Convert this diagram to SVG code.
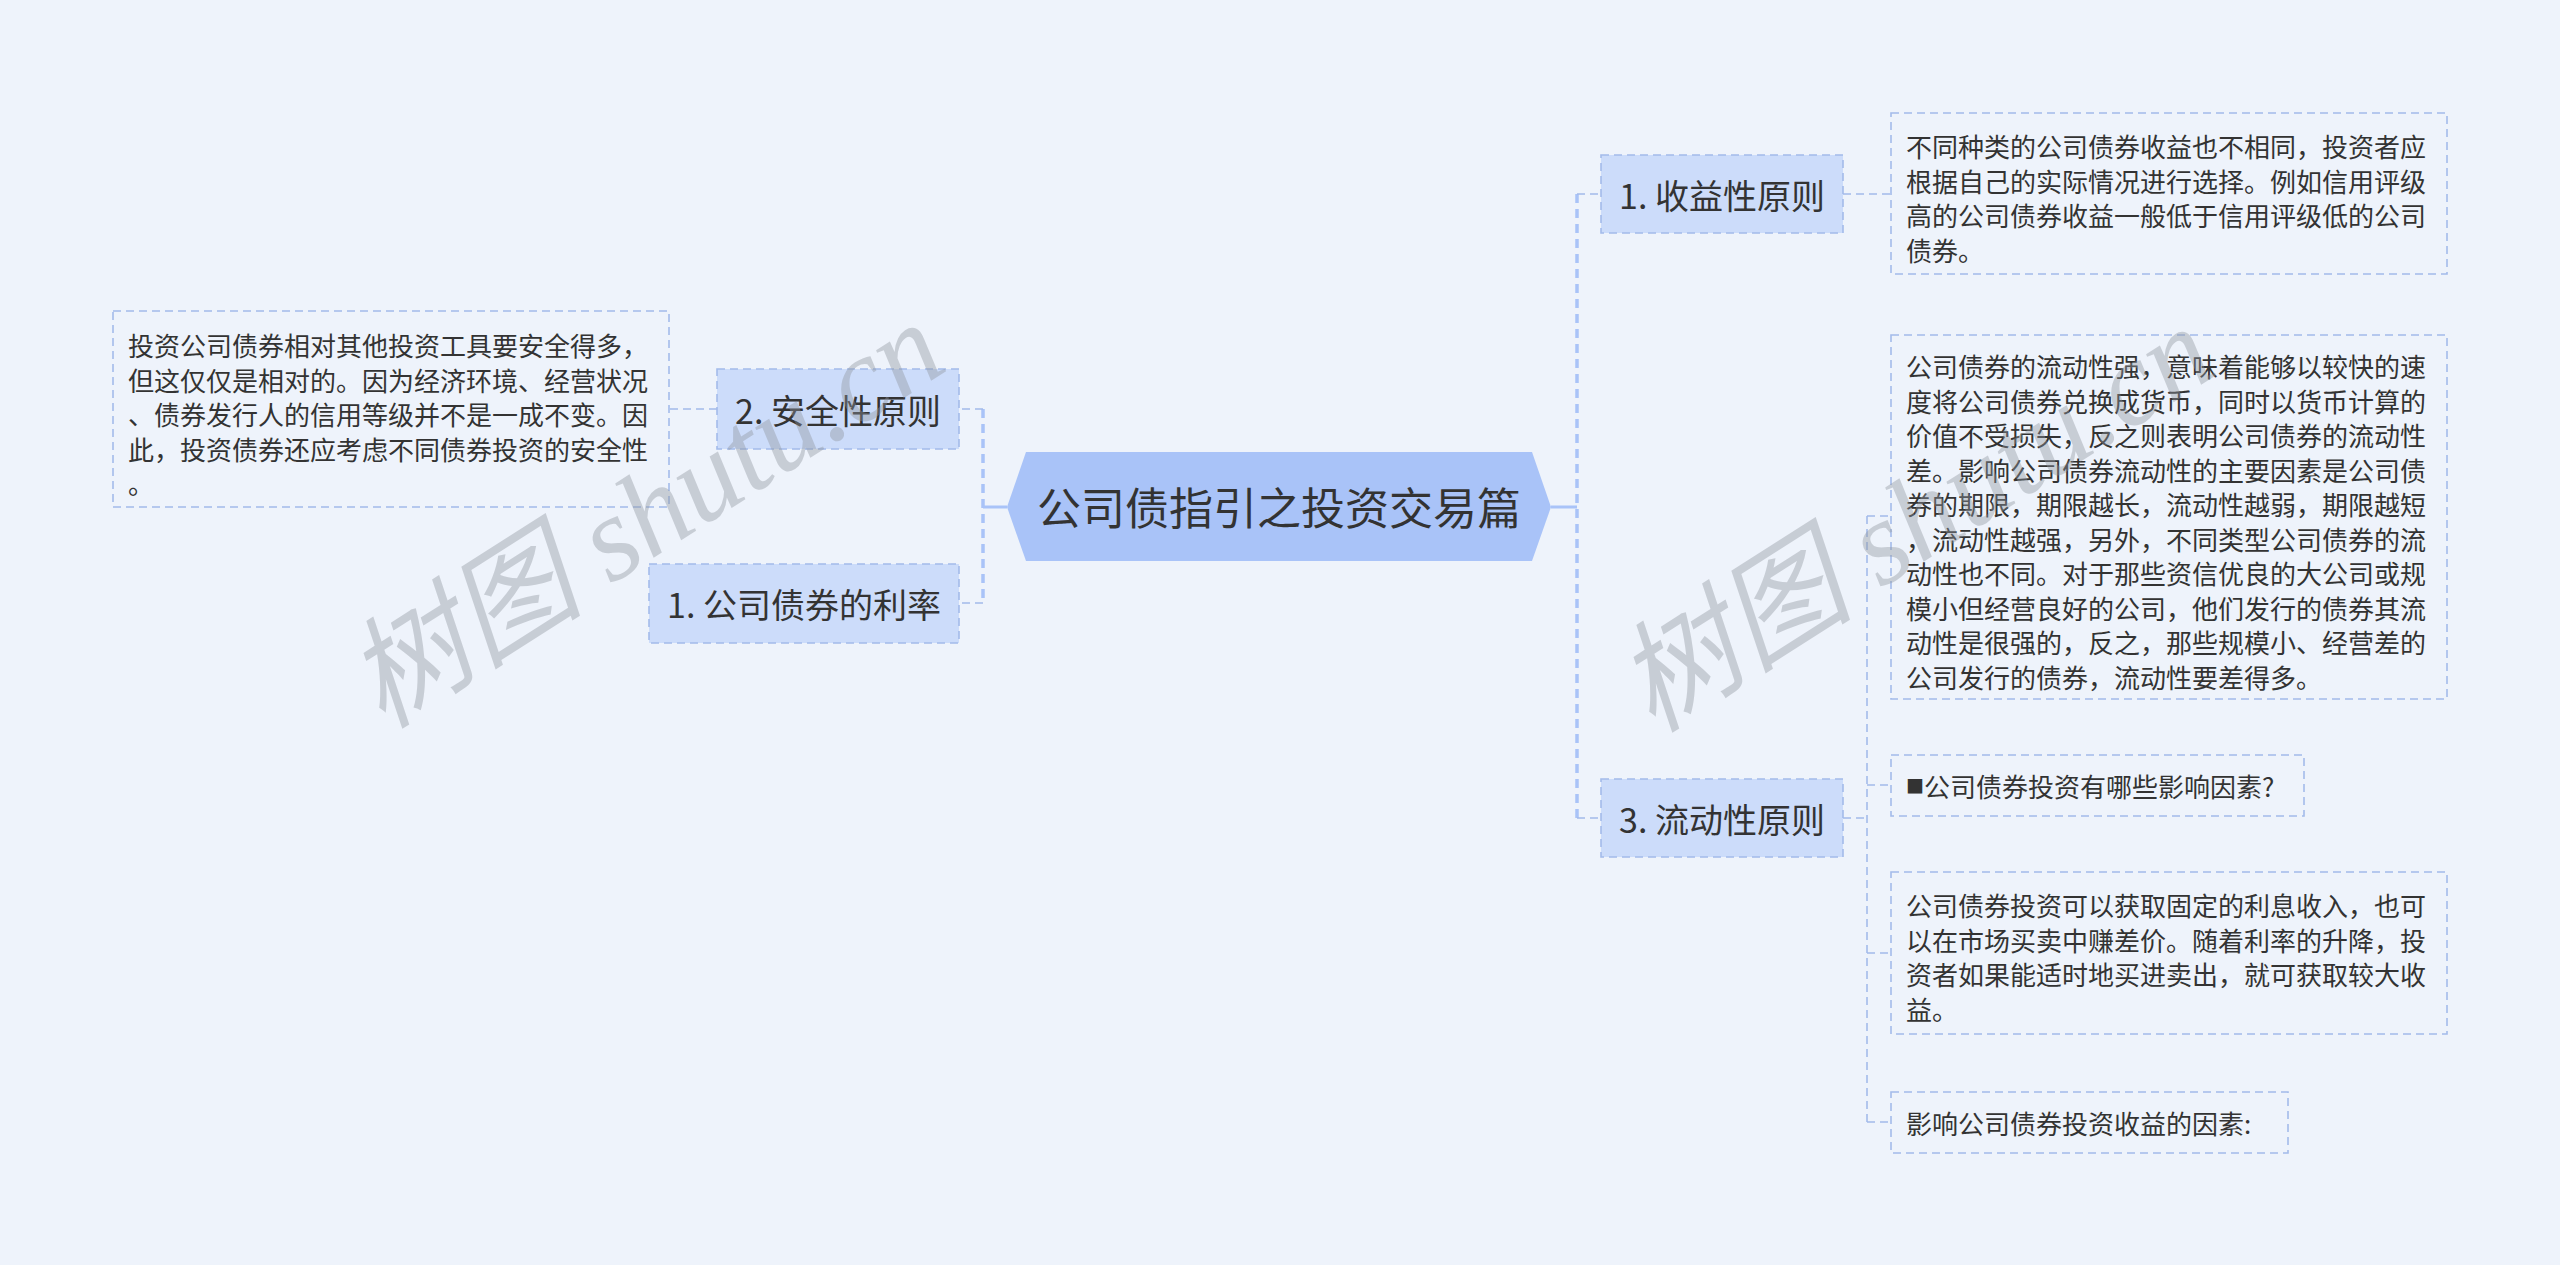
<svg xmlns="http://www.w3.org/2000/svg" width="2560" height="1265" viewBox="0 0 2560 1265">
<style>
.bg{fill:#eef3fb}
.t{font-family:"Noto Sans CJK SC","Noto Sans",sans-serif;fill:#333333}
.lbl{font-size:34px;text-anchor:middle;dominant-baseline:central}
.body{font-size:26px;dominant-baseline:central}
.node{fill:#ccdcfa;stroke:#a3bbea;stroke-width:1.6;stroke-dasharray:8 5}
.box{fill:none;stroke:#a3bbea;stroke-width:1.6;stroke-dasharray:8 5}
.solid{stroke:#a9c3f8;stroke-width:3;fill:none}
.trunk{stroke:#a9c3f8;stroke-width:3.5;fill:none;stroke-dasharray:9 6}
.thin{stroke:#a3bbea;stroke-width:1.6;fill:none;stroke-dasharray:8 5}
.wm{font-family:"Liberation Serif","Noto Sans CJK SC",serif;font-size:120px;font-style:italic;fill:#8f959e;opacity:0.4;text-anchor:middle;dominant-baseline:central}
</style>
<rect class="bg" x="0" y="0" width="2560" height="1265"/>

<g id="connectors">
  <line class="solid" x1="1551" y1="507" x2="1577" y2="507"/>
  <line class="trunk" x1="1577" y1="194" x2="1577" y2="818"/>
  <line class="thin" x1="1577" y1="194" x2="1601" y2="194"/>
  <line class="thin" x1="1577" y1="818" x2="1601" y2="818"/>
  <line class="solid" x1="1007" y1="507" x2="983" y2="507"/>
  <line class="trunk" x1="983" y1="409" x2="983" y2="603"/>
  <line class="thin" x1="983" y1="409" x2="959" y2="409"/>
  <line class="thin" x1="983" y1="603" x2="959" y2="603"/>
  <line class="thin" x1="717" y1="409" x2="669" y2="409"/>
  <line class="thin" x1="1843" y1="194" x2="1891" y2="194"/>
  <line class="thin" x1="1843" y1="818" x2="1867" y2="818"/>
  <line class="thin" x1="1867" y1="516" x2="1867" y2="1122"/>
  <line class="thin" x1="1867" y1="516" x2="1891" y2="516"/>
  <line class="thin" x1="1867" y1="785" x2="1891" y2="785"/>
  <line class="thin" x1="1867" y1="953" x2="1891" y2="953"/>
  <line class="thin" x1="1867" y1="1122" x2="1891" y2="1122"/>
</g>

<g id="root">
  <polygon points="1007,507 1026,452 1532,452 1551,507 1532,561 1026,561" fill="#a9c3f8"/>
  <text class="t" x="1279" y="506" font-size="44" text-anchor="middle" dominant-baseline="central">公司债指引之投资交易篇</text>
</g>

<g id="n-shouyi">
  <rect class="node" x="1601" y="155" width="242" height="78"/>
  <text class="t lbl" x="1722" y="194">1. 收益性原则</text>
</g>
<g id="n-liudong">
  <rect class="node" x="1601" y="779" width="242" height="78"/>
  <text class="t lbl" x="1722" y="818">3. 流动性原则</text>
</g>
<g id="n-anquan">
  <rect class="node" x="717" y="369" width="242" height="80"/>
  <text class="t lbl" x="838" y="409">2. 安全性原则</text>
</g>
<g id="n-lilv">
  <rect class="node" x="649" y="564" width="310" height="79"/>
  <text class="t lbl" x="804" y="603">1. 公司债券的利率</text>
</g>

<g id="d-anquan">
  <rect class="box" x="113" y="311" width="556" height="196"/>
  <text class="t body">
    <tspan x="128" y="344">投资公司债券相对其他投资工具要安全得多，</tspan>
    <tspan x="128" y="378.5">但这仅仅是相对的。因为经济环境、经营状况</tspan>
    <tspan x="128" y="413">、债券发行人的信用等级并不是一成不变。因</tspan>
    <tspan x="128" y="447.5">此，投资债券还应考虑不同债券投资的安全性</tspan>
    <tspan x="128" y="482">。</tspan>
  </text>
</g>

<g id="d-shouyi">
  <rect class="box" x="1891" y="113" width="556" height="161"/>
  <text class="t body">
    <tspan x="1906" y="145">不同种类的公司债券收益也不相同，投资者应</tspan>
    <tspan x="1906" y="179.5">根据自己的实际情况进行选择。例如信用评级</tspan>
    <tspan x="1906" y="214">高的公司债券收益一般低于信用评级低的公司</tspan>
    <tspan x="1906" y="248.5">债券。</tspan>
  </text>
</g>

<g id="d-liudong">
  <rect class="box" x="1891" y="335" width="556" height="364"/>
  <text class="t body">
    <tspan x="1906" y="365">公司债券的流动性强，意味着能够以较快的速</tspan>
    <tspan x="1906" y="399.5">度将公司债券兑换成货币，同时以货币计算的</tspan>
    <tspan x="1906" y="434">价值不受损失，反之则表明公司债券的流动性</tspan>
    <tspan x="1906" y="468.5">差。影响公司债券流动性的主要因素是公司债</tspan>
    <tspan x="1906" y="503">券的期限，期限越长，流动性越弱，期限越短</tspan>
    <tspan x="1906" y="537.5">，流动性越强，另外，不同类型公司债券的流</tspan>
    <tspan x="1906" y="572">动性也不同。对于那些资信优良的大公司或规</tspan>
    <tspan x="1906" y="606.5">模小但经营良好的公司，他们发行的债券其流</tspan>
    <tspan x="1906" y="641">动性是很强的，反之，那些规模小、经营差的</tspan>
    <tspan x="1906" y="675.5">公司发行的债券，流动性要差得多。</tspan>
  </text>
</g>

<g id="d-yinsu">
  <rect class="box" x="1891" y="755" width="413" height="61"/>
  <text class="t body" x="1906" y="785"><tspan font-size="18">■</tspan>公司债券投资有哪些影响因素?</text>
</g>

<g id="d-shouru">
  <rect class="box" x="1891" y="872" width="556" height="162"/>
  <text class="t body">
    <tspan x="1906" y="904">公司债券投资可以获取固定的利息收入，也可</tspan>
    <tspan x="1906" y="938.5">以在市场买卖中赚差价。随着利率的升降，投</tspan>
    <tspan x="1906" y="973">资者如果能适时地买进卖出，就可获取较大收</tspan>
    <tspan x="1906" y="1007.5">益。</tspan>
  </text>
</g>

<g id="d-shouyiyinsu">
  <rect class="box" x="1891" y="1092" width="397" height="61"/>
  <text class="t body" x="1906" y="1122">影响公司债券投资收益的因素:</text>
</g>

<g id="watermarks">
  <text class="wm" transform="translate(645,515) rotate(-32.5)">树图 shutu.cn</text>
  <text class="wm" transform="translate(1915,519) rotate(-32.5)">树图 shutu.cn</text>
</g>
</svg>
